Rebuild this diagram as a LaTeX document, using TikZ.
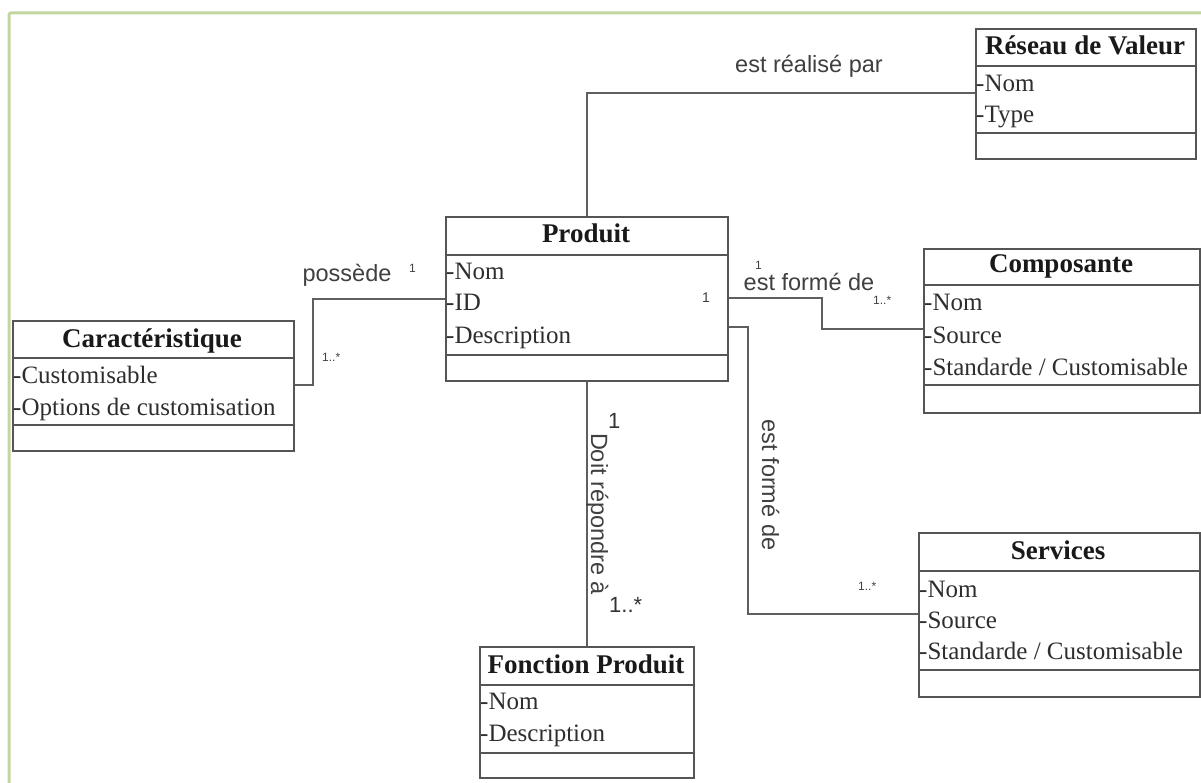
\documentclass[tikz,border=0pt]{standalone}
\usepackage{fontspec}
\setmainfont{Liberation Serif}
\newfontfamily\lsans{Liberation Sans}
\definecolor{boxgray}{RGB}{85,85,85}
\definecolor{linegray}{RGB}{95,95,95}
\definecolor{framegreen}{RGB}{195,213,160}
\begin{document}
\begin{tikzpicture}[x=1pt,y=-1pt,
  classbox/.style={draw=boxgray, line width=1.7pt, fill=white, inner sep=0pt, anchor=north west},
  sepline/.style={draw=boxgray, line width=1.7pt},
  conn/.style={draw=linegray, line width=1.6pt},
  ctitle/.style={font=\fontsize{27}{30}\selectfont\bfseries, text=black!90, inner sep=0pt, anchor=base},
  attr/.style={font=\fontsize{25}{28}\selectfont, text=black!82, inner sep=0pt, anchor=base west},
  lbl/.style={font=\lsans\fontsize{23.5}{26}\selectfont, text=black!75, inner sep=0pt, anchor=base},
  mult/.style={font=\lsans\fontsize{12}{14}\selectfont, text=black!75, inner sep=0pt, anchor=base west},
  multbig/.style={font=\lsans\fontsize{22}{24}\selectfont, text=black!80, inner sep=0pt, anchor=base west},
]
\useasboundingbox (0,0) rectangle (1201,783);
\fill[white] (0,0) rectangle (1201,783);
% frame
\draw[framegreen, line width=3pt, rounded corners=2pt] (9,790) -- (9,13) -- (1210,13);

% ---- connector bend points
\coordinate (c1a) at (587,93);
\coordinate (c2a) at (313,385);
\coordinate (c2b) at (313,299);
\coordinate (c3a) at (822,298);
\coordinate (c3b) at (822,329);
\coordinate (c4a) at (748,327);
\coordinate (c4b) at (748,614);

% ---- class boxes
\node[classbox, minimum width=220pt, minimum height=130pt] (res) at (975,28) {};
\draw[sepline] (975,66) -- (1195,66);
\draw[sepline] (975,133) -- (1195,133);
\node[ctitle] (resT) at (1085,55) {Réseau de Valeur};
\node[attr] (resA1) at (976,92) {-Nom};
\node[attr] (resA2) at (976,123) {-Type};

\node[classbox, minimum width=282pt, minimum height=164pt] (prod) at (445,216) {};
\draw[sepline] (445,255) -- (727,255);
\draw[sepline] (445,355) -- (727,355);
\node[ctitle] (prodT) at (586,243) {Produit};
\node[attr] (prodA1) at (446,280) {-Nom};
\node[attr] (prodA2) at (446,311) {-ID};
\node[attr] (prodA3) at (446,343) {-Description};

\node[classbox, minimum width=281pt, minimum height=130pt] (car) at (12,320) {};
\draw[sepline] (12,358) -- (293,358);
\draw[sepline] (12,425) -- (293,425);
\node[ctitle] (carT) at (152,347) {Caractéristique};
\node[attr] (carA1) at (13,383) {-Customisable};
\node[attr] (carA2) at (13,415) {-Options de customisation};

\node[classbox, minimum width=276pt, minimum height=164pt] (comp) at (923,248) {};
\draw[sepline] (923,285) -- (1199,285);
\draw[sepline] (923,385) -- (1199,385);
\node[ctitle] (compT) at (1061,273) {Composante};
\node[attr] (compA1) at (924,311) {-Nom};
\node[attr] (compA2) at (924,343) {-Source};
\node[attr] (compA3) at (924,375) {-Standarde / Customisable};

\node[classbox, minimum width=281pt, minimum height=164pt] (serv) at (918,532) {};
\draw[sepline] (918,571) -- (1199,571);
\draw[sepline] (918,670) -- (1199,670);
\node[ctitle] (servT) at (1058,559) {Services};
\node[attr] (servA1) at (919,597) {-Nom};
\node[attr] (servA2) at (919,628) {-Source};
\node[attr] (servA3) at (919,659) {-Standarde / Customisable};

\node[classbox, minimum width=214pt, minimum height=131pt] (fonc) at (479,646) {};
\draw[sepline] (479,685) -- (693,685);
\draw[sepline] (479,753) -- (693,753);
\node[ctitle] (foncT) at (586,673) {Fonction Produit};
\node[attr] (foncA1) at (480,709) {-Nom};
\node[attr] (foncA2) at (480,741) {-Description};

% ---- connectors
\draw[conn] (prod.north -| c1a) -- (c1a) -- (c1a -| res.west);
\draw[conn] (c2a -| car.east) -- (c2a) -- (c2b) -- (c2b -| prod.west);
\draw[conn] (c3a -| prod.east) -- (c3a) -- (c3b) -- (c3b -| comp.west);
\draw[conn] (c4a -| prod.east) -- (c4a) -- (c4b) -- (c4b -| serv.west);
\draw[conn] (prod.south -| c1a) -- (fonc.north -| c1a);

% ---- labels
\node[lbl] (l1) at (809,73) {est réalisé par};
\node[lbl] (l2) at (347,282) {possède};
\node[mult] (m2a) at (409,273) {1};
\node[mult] (m2b) at (322,361) {1..*};
\node[mult, font=\lsans\fontsize{14}{16}\selectfont] (m3a) at (702,303) {1};
\node[mult] (m3b) at (755,270) {1};
\node[lbl] (l3) at (809,291) {est formé de};
\node[mult] (m3c) at (873,305) {1..*};
\node[lbl, rotate=-90] (l4) at (762,485) {est formé de};
\node[mult] (m4) at (858,590) {1..*};
\node[lbl, rotate=-90] (l5) at (591,514) {Doit répondre à};
\node[multbig] (m5a) at (608,428) {1};
\node[multbig] (m5b) at (609,612) {1..*};
\end{tikzpicture}
\end{document}
